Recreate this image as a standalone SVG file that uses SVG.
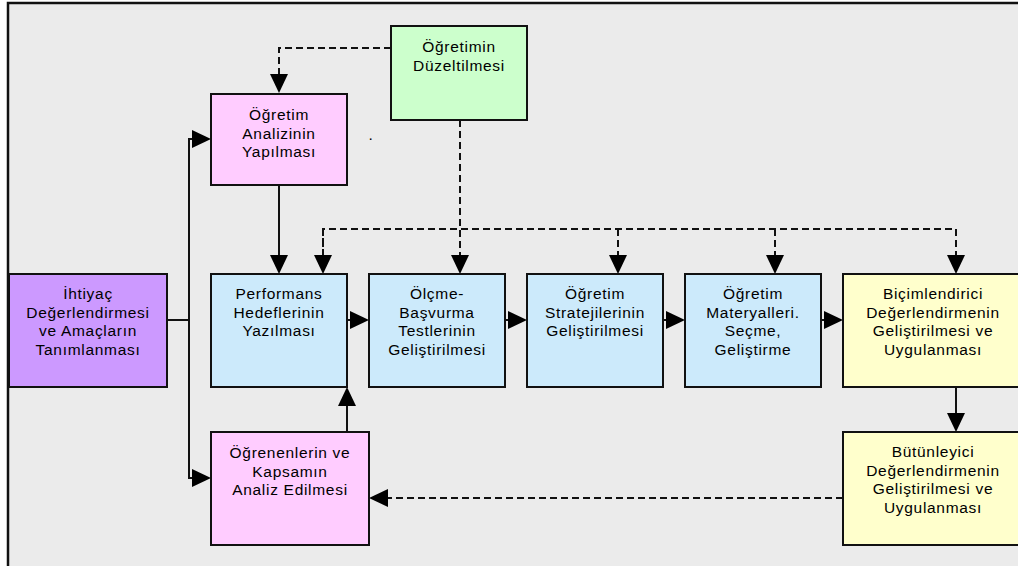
<svg xmlns="http://www.w3.org/2000/svg" width="1018" height="566" viewBox="0 0 1018 566">
<defs>
<style>
.box{stroke:#111;stroke-width:2}
.purple{fill:#cc99ff}.pink{fill:#ffccff}.green{fill:#ccffcc}.blue{fill:#cceafb}.yellow{fill:#ffffcc}
.t{font-family:"Liberation Sans",Arial,sans-serif;font-size:15.5px;fill:#000;text-anchor:middle;letter-spacing:0.7px}
.c{fill:none;stroke:#111;stroke-width:2}
.d{stroke-dasharray:7 4}
</style>
<marker id="ah" viewBox="0 0 19 18" refX="1" refY="9" markerWidth="19" markerHeight="18" markerUnits="userSpaceOnUse" orient="auto">
<path d="M0,0 L19,9 L0,18 Z" fill="#000"/>
</marker>
</defs>
<rect x="0" y="0" width="1018" height="566" fill="#ffffff"/>
<rect x="8" y="3" width="1010" height="563" fill="#ebebeb"/>
<path d="M8,566 V3 H1018" fill="none" stroke="#111" stroke-width="2.5"/>

<g id="connectors">
<path class="c d" d="M391,48 H279 V75" marker-end="url(#ah)"/>
<path class="c d" d="M460,120 V256" marker-end="url(#ah)"/>
<path class="c d" d="M323,256 V229 H956 V256" marker-end="url(#ah)"/>
<path class="c d" d="M618,229 V256" marker-end="url(#ah)"/>
<path class="c d" d="M775,229 V256" marker-end="url(#ah)"/>
<path class="c d" d="M323,229 V256" marker-end="url(#ah)"/>
<path class="c" d="M279,185 V256" marker-end="url(#ah)"/>
<path class="c" d="M167,320 H189"/>
<path class="c" d="M193,139 H189 V478 H193"/>
<path class="c" d="M189,139 H193" marker-end="url(#ah)"/>
<path class="c" d="M189,478 H193" marker-end="url(#ah)"/>
<path class="c" d="M347,320 H351" marker-end="url(#ah)"/>
<path class="c" d="M505,320 H509" marker-end="url(#ah)"/>
<path class="c" d="M663,320 H667" marker-end="url(#ah)"/>
<path class="c" d="M821,320 H825" marker-end="url(#ah)"/>
<path class="c" d="M347,432 V405" marker-end="url(#ah)"/>
<path class="c" d="M956,387 V414" marker-end="url(#ah)"/>
<path class="c d" d="M843,498 H387" marker-end="url(#ah)"/>
</g>

<g id="n-duzeltme">
<rect class="box green" x="391" y="26" width="136" height="94"/>
<text class="t" x="459" y="52">Öğretimin</text>
<text class="t" x="459" y="70.5">Düzeltilmesi</text>
</g>

<g id="n-analiz">
<rect class="box pink" x="211" y="94" width="136" height="91"/>
<text class="t" x="279" y="120">Öğretim</text>
<text class="t" x="279" y="138.7">Analizinin</text>
<text class="t" x="279" y="157.4">Yapılması</text>
</g>

<text class="t" x="371" y="140">.</text>

<g id="n-ihtiyac">
<rect class="box purple" x="9" y="274" width="158" height="113"/>
<text class="t" x="88" y="299">İhtiyaç</text>
<text class="t" x="88" y="317.7">Değerlendirmesi</text>
<text class="t" x="88" y="336.4">ve Amaçların</text>
<text class="t" x="88" y="355.1">Tanımlanması</text>
</g>

<g id="n-performans">
<rect class="box blue" x="211" y="274" width="136" height="113"/>
<text class="t" x="279" y="299">Performans</text>
<text class="t" x="279" y="317.7">Hedeflerinin</text>
<text class="t" x="279" y="336.4">Yazılması</text>
</g>

<g id="n-olcme">
<rect class="box blue" x="369" y="274" width="136" height="113"/>
<text class="t" x="437" y="299">Ölçme-</text>
<text class="t" x="437" y="317.7">Başvurma</text>
<text class="t" x="437" y="336.4">Testlerinin</text>
<text class="t" x="437" y="355.1">Geliştirilmesi</text>
</g>

<g id="n-strateji">
<rect class="box blue" x="527" y="274" width="136" height="113"/>
<text class="t" x="595" y="299">Öğretim</text>
<text class="t" x="595" y="317.7">Stratejilerinin</text>
<text class="t" x="595" y="336.4">Geliştirilmesi</text>
</g>

<g id="n-materyal">
<rect class="box blue" x="685" y="274" width="136" height="113"/>
<text class="t" x="753" y="299">Öğretim</text>
<text class="t" x="753" y="317.7">Materyalleri.</text>
<text class="t" x="753" y="336.4">Seçme,</text>
<text class="t" x="753" y="355.1">Geliştirme</text>
</g>

<g id="n-bicimlendirici">
<rect class="box yellow" x="843" y="274" width="182" height="113"/>
<text class="t" x="933" y="299">Biçimlendirici</text>
<text class="t" x="933" y="317.7">Değerlendirmenin</text>
<text class="t" x="933" y="336.4">Geliştirilmesi ve</text>
<text class="t" x="933" y="355.1">Uygulanması</text>
</g>

<g id="n-ogrenenler">
<rect class="box pink" x="211" y="432" width="158" height="113"/>
<text class="t" x="290" y="458">Öğrenenlerin ve</text>
<text class="t" x="290" y="476.7">Kapsamın</text>
<text class="t" x="290" y="495.4">Analiz Edilmesi</text>
</g>

<g id="n-butunleyici">
<rect class="box yellow" x="843" y="432" width="182" height="113"/>
<text class="t" x="933" y="457">Bütünleyici</text>
<text class="t" x="933" y="475.7">Değerlendirmenin</text>
<text class="t" x="933" y="494.4">Geliştirilmesi ve</text>
<text class="t" x="933" y="513.1">Uygulanması</text>
</g>
</svg>
